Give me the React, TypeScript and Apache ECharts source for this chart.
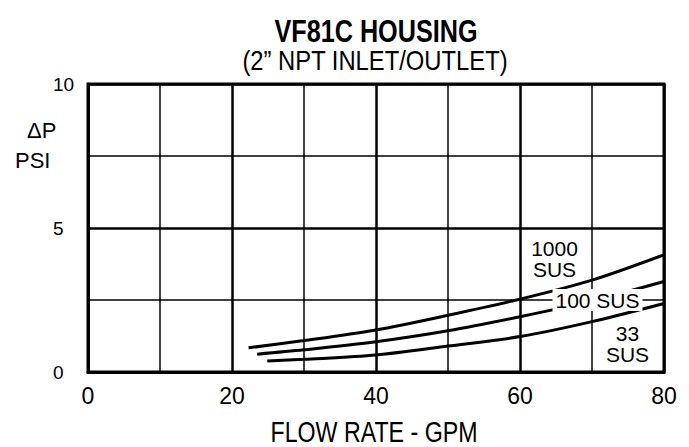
import React, { useEffect, useRef } from "react";
import * as echarts from "echarts";

const flowMin = 0;
const flowMax = 80;
const dpMin = 0;
const dpMax = 10;

const sus1000Flow = [22.3, 30, 40, 50, 60, 70, 80];
const sus1000Dp = [0.84, 1.09, 1.46, 1.97, 2.53, 3.19, 4.07];
const sus100Flow = [23.5, 30, 40, 50, 60, 70, 80];
const sus100Dp = [0.62, 0.77, 1.05, 1.43, 1.92, 2.47, 3.14];
const sus33Flow = [24.9, 30, 40, 50, 60, 70, 80];
const sus33Dp = [0.38, 0.44, 0.59, 0.9, 1.23, 1.75, 2.38];

const titleText = "VF81C HOUSING";
const subtitleText = "(2\u201D NPT INLET/OUTLET)";
const xName = "FLOW RATE - GPM";
const yName1 = "\u0394P";
const yName2 = "PSI";
const label1000 = "1000\nSUS";
const label100 = "100 SUS";
const label33 = "33\nSUS";

const FONT = "'Liberation Sans', Arial, Helvetica, sans-serif";

function pairs(xs: number[], ys: number[]) {
  return xs.map((x, i) => [x, ys[i]]);
}

export default function App() {
  const ref = useRef<HTMLDivElement>(null);
  useEffect(() => {
    document.body.style.margin = "0";
    if (!ref.current) return;
    const chart = echarts.init(ref.current, undefined, { renderer: "svg" });
    const lineStyle = { color: "#000", width: 3 };
    const textBase = { fill: "#000", fontFamily: FONT };
    chart.setOption({
      animation: false,
      backgroundColor: "#fff",
      grid: {
        left: 88,
        top: 84,
        width: 576,
        height: 288,
        show: true,
        borderColor: "#000",
        borderWidth: 3,
        backgroundColor: "transparent",
      },
      xAxis: {
        type: "value",
        min: flowMin,
        max: flowMax,
        interval: 20,
        axisLine: { show: true, lineStyle: { color: "#000", width: 3 } },
        axisTick: { show: false },
        minorTick: { show: false, splitNumber: 2 },
        splitLine: { show: true, lineStyle: { color: "#000", width: 2.5 } },
        minorSplitLine: { show: true, lineStyle: { color: "#000", width: 1.5 } },
        axisLabel: { color: "#000", fontSize: 23, fontFamily: FONT, margin: 12 },
      },
      yAxis: {
        type: "value",
        min: dpMin,
        max: dpMax,
        interval: 5,
        axisLine: { show: true, lineStyle: { color: "#000", width: 3 } },
        axisTick: { show: false },
        minorTick: { show: false, splitNumber: 2 },
        splitLine: { show: true, lineStyle: { color: "#000", width: 2.5 } },
        minorSplitLine: { show: true, lineStyle: { color: "#000", width: 1.5 } },
        axisLabel: { color: "#000", fontSize: 19, fontFamily: FONT, margin: 35, align: "left" },
      },
      series: [
        { name: "1000 SUS", type: "line", data: pairs(sus1000Flow, sus1000Dp), smooth: 0.3, showSymbol: false, symbol: "none", lineStyle },
        { name: "100 SUS", type: "line", data: pairs(sus100Flow, sus100Dp), smooth: 0.3, showSymbol: false, symbol: "none", lineStyle },
        { name: "33 SUS", type: "line", data: pairs(sus33Flow, sus33Dp), smooth: 0.3, showSymbol: false, symbol: "none", lineStyle },
      ],
      graphic: [
        {
          type: "text", x: 376, y: 31, scaleX: 0.84, scaleY: 1.05, z: 100,
          style: { ...textBase, text: titleText, fontSize: 30, fontWeight: "bold", align: "center", verticalAlign: "middle" },
        },
        {
          type: "text", x: 375, y: 60, scaleX: 0.85, z: 100,
          style: { ...textBase, text: subtitleText, fontSize: 28, align: "center", verticalAlign: "middle" },
        },
        {
          type: "text", x: 374, y: 432, scaleX: 0.8, z: 100,
          style: { ...textBase, text: xName, fontSize: 29, lineHeight: 22, align: "center", verticalAlign: "middle" },
        },
        {
          type: "text", x: 27, y: 130.5, z: 100,
          style: { ...textBase, text: yName1, fontSize: 22, align: "left", verticalAlign: "middle" },
        },
        {
          type: "text", x: 15, y: 160.5, z: 100,
          style: { ...textBase, text: yName2, fontSize: 22, align: "left", verticalAlign: "middle" },
        },
        {
          type: "text", x: 554.5, y: 258.5, z: 100,
          style: { ...textBase, text: label1000, fontSize: 21, lineHeight: 21, align: "center", verticalAlign: "middle" },
        },
        {
          type: "text", x: 597.5, y: 300, z: 100,
          style: {
            ...textBase, text: label100, fontSize: 21, lineHeight: 20, align: "center", verticalAlign: "middle",
            backgroundColor: "#fff", padding: [1, 3, 1, 3],
          },
        },
        {
          type: "text", x: 627.5, y: 344, z: 100,
          style: { ...textBase, text: label33, fontSize: 21, lineHeight: 21, align: "center", verticalAlign: "middle" },
        },
      ],
    });
    return () => chart.dispose();
  }, []);
  return <div ref={ref} style={{ width: 689, height: 447 }} />;
}
